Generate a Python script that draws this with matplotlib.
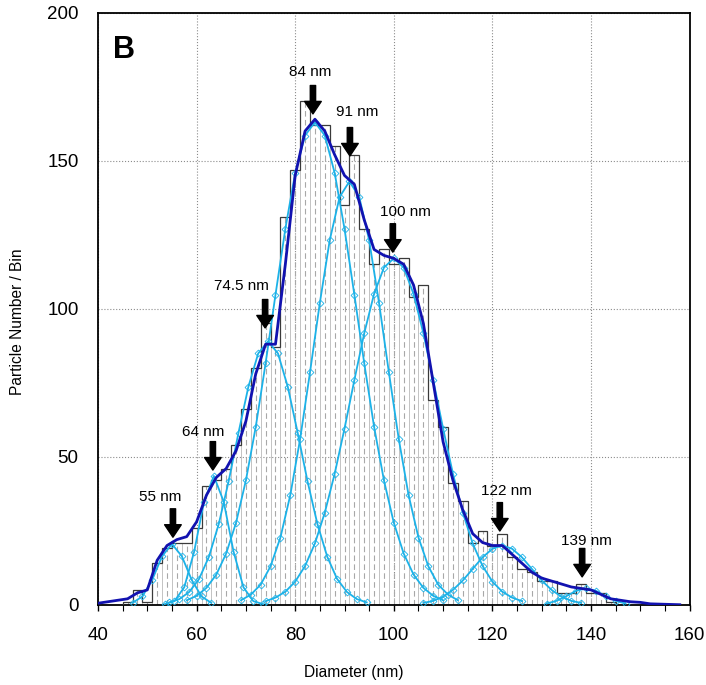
import numpy as np
import matplotlib.pyplot as plt

plt.rcParams['font.family'] = ['Liberation Sans', 'DejaVu Sans']

# histogram: bin centres (nm), 2 nm wide bins, counts per bin
bin_centers = np.arange(46, 146, 2)
bin_counts = [1, 5, 1, 14, 19, 21, 21, 26, 40, 42,
              46, 54, 66, 80, 95, 87, 131, 147, 170, 162,
              162, 155, 135, 152, 127, 115, 120, 115, 117, 104,
              108, 69, 60, 41, 35, 21, 25, 20, 24, 16,
              12, 11, 8, 8, 4, 4, 7, 4, 4, 1]

# envelope curve (dark blue)
env_x = np.arange(40, 160, 2)
env_y = [0.5, 1, 1.5, 2, 4, 5, 15, 20, 22, 23,
         28, 37, 43, 46, 52, 62, 78, 88, 88, 115,
         145, 160, 164, 160, 152, 145, 142, 130, 120, 118,
         117, 115, 108, 95, 75, 55, 42, 32, 24, 21,
         20, 20, 17, 14, 11, 9, 8, 7, 6, 5.5,
         5, 3.5, 2, 1.5, 1, 0.8, 0.3, 0.2, 0.1, 0]

# fitted components (light blue): first x of each, then values every 2 nm
comp_x0 = [47, 53.5, 54.5, 58, 69, 74, 106, 131]
comp_y = [
    [0.6, 2.8, 8.4, 16.4, 20.5, 16.4, 8.4, 2.8, 0.6],
    [0.2, 1.2, 5.9, 17.9, 34.8, 43.5, 34.8, 17.9, 5.9, 1.2, 0.2],
    [0.8, 1.9, 4.3, 8.7, 16.2, 27.3, 41.7, 58.1, 73.6, 84.9, 89,
     84.9, 73.6, 58.1, 41.7, 27.3, 16.2, 8.7, 4.3, 1.9, 0.8],
    [1.5, 3.0, 5.7, 10.2, 17.3, 27.7, 42, 60.1, 81.6, 104.7, 127, 145.9, 158.5, 163,
     158.5, 145.9, 127, 104.7, 81.6, 60.1, 42, 27.7, 17.3, 10.2, 5.7, 3.0, 1.5],
    [1.5, 3.4, 6.8, 13, 22.7, 37, 56, 78.5, 102, 123.1, 137.7, 143,
     137.7, 123.1, 102, 78.5, 56, 37, 22.7, 13, 6.8, 3.4, 1.5],
    [1.2, 2.4, 4.4, 7.8, 13.1, 20.7, 31.1, 44.2, 59.5, 75.9, 91.7, 105, 113.9, 117,
     113.9, 105, 91.7, 75.9, 59.5, 44.2, 31.1, 20.7, 13.1, 7.8, 4.4, 2.4, 1.2],
    [0.6, 1.3, 2.7, 5, 8.2, 12.1, 16, 18.9, 20, 18.9, 16, 12.1, 8.2, 5, 2.7, 1.3, 0.6],
    [0.4, 1.3, 2.9, 4.7, 5.5, 4.7, 2.9, 1.3, 0.4],
]

# peak labels: text, arrow x, arrow tip y, label x, label y
peak_text = ['55 nm', '64 nm', '74.5 nm', '84 nm', '91 nm', '100 nm', '122 nm', '139 nm']
arrow_x = [55.2, 63.3, 73.9, 83.6, 91.1, 99.8, 121.5, 138.2]
arrow_tip = [22.8, 45.5, 93.5, 165.8, 151.6, 119.1, 24.9, 9.4]
label_x = [52.6, 61.3, 69.0, 83.0, 92.5, 102.3, 122.8, 139.0]
label_y = [36.4, 58.3, 107.6, 180.0, 166.4, 132.7, 38.4, 21.4]

fig = plt.figure(figsize=(7.06, 6.85), dpi=100)
ax = fig.add_axes([0.1388, 0.1172, 0.8380, 0.8643])

ax.grid(True, color='#8c8c8c', linestyle=':', linewidth=0.8)
ax.set_axisbelow(True)

edges = np.append(bin_centers - 1, bin_centers[-1] + 1)
ax.bar(bin_centers, bin_counts, width=2, facecolor='none', edgecolor='#c4c4c4', linewidth=0.7, zorder=2)
ax.vlines(bin_centers, 0, bin_counts, colors='#a8a8a8', linestyles=(0, (5, 3)), linewidth=0.8, zorder=2)
ax.stairs(bin_counts, edges, color='#3a3a3a', linewidth=0.9, zorder=3)

for x0, ys in zip(comp_x0, comp_y):
    xs = x0 + 2 * np.arange(len(ys))
    ax.plot(xs, ys, color='#1cb2e8', linewidth=1.3, marker='D', markersize=3.5,
            markerfacecolor='none', markeredgewidth=0.6, zorder=4)

ax.plot(env_x, env_y, color='#1212b0', linewidth=2.0, zorder=5)

for t, ax_x, tip, lx, ly in zip(peak_text, arrow_x, arrow_tip, label_x, label_y):
    ax.annotate('', xy=(ax_x, tip), xytext=(ax_x, tip + 9.6),
                arrowprops=dict(arrowstyle='simple,head_length=0.75,head_width=1.0,tail_width=0.32',
                                color='black', mutation_scale=12, shrinkA=0, shrinkB=0),
                zorder=6)
    ax.text(lx, ly, t, ha='center', va='center', fontsize=11, zorder=6)

ax.text(0.0254, 0.9235, 'B', transform=ax.transAxes, fontsize=22, fontweight='bold',
        ha='left', va='baseline')

ax.set_xlim(40, 160)
ax.set_ylim(0, 200)
ax.set_xticks(np.arange(40, 161, 20))
ax.set_xticks(np.arange(40, 161, 5), minor=True)
ax.set_yticks(np.arange(0, 201, 50))
ax.tick_params(axis='both', labelsize=13.5, direction='out', length=4, width=1)
ax.tick_params(axis='x', which='minor', direction='out', length=4, width=0.8)
ax.tick_params(axis='x', pad=12)
ax.tick_params(axis='y', pad=14, length=0)
for s in ax.spines.values():
    s.set_linewidth(1.3)

fig.text(354 / 706, 1 - 672 / 685, 'Diameter (nm)', fontsize=11.2, ha='center', va='center')
fig.text(18 / 706, 1 - 322 / 685, 'Particle Number / Bin', fontsize=11.2,
         rotation=90, ha='center', va='center')

fig.savefig('out.png', dpi=100)
